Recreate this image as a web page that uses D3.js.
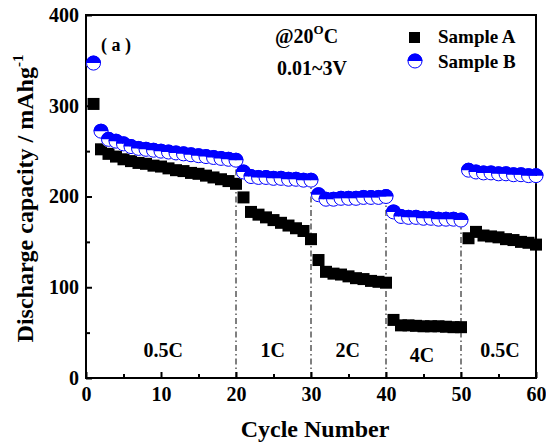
<!DOCTYPE html>
<html><head><meta charset="utf-8">
<script src="https://cdn.jsdelivr.net/npm/d3@7"></script>
<style>body{margin:0;background:#fff}svg{display:block}text{font-family:"Liberation Serif","Times New Roman",serif;font-weight:bold}</style>
</head><body><svg id="c" width="546" height="444"></svg>
<script>
const cycles = d3.range(1, 61);
const sampleA = [302,252,247,244,241,239,237,236,234,233,231,229,228,226,225,223,221,219,217,214,
  199,183,180,177,174,171,168,165,162,153,
  130,117,115,114,112,110,109,107,106,105,
  64,58,58,57.5,57,57,57,56.5,56,56,
  154,161,157,156,155,153,152,150,149,147];
const sampleB = [347,272,263,261,258,255,253,252,251,250,249,248,247,246,245,244,243,242,241,240,
  227,222,221,221,220,220,219,219,218,218,
  202,197,197,198,198,198,199,199,199,200,
  183,178,177,177,176,176,175,175,175,174,
  229,227,226,226,225,225,224,224,223,223];
const dividers = [20, 30, 40, 50];
const rateLabels = ["0.5C", "1C", "2C", "4C", "0.5C"];
const ratePos = [10.3, 24.9, 34.9, 44.8, 55.2];
const xTicks = [0,10,20,30,40,50,60];
const yTicks = [0,100,200,300,400];

const svg = d3.select("#c");
const x = d3.scaleLinear().domain([0,60]).range([86,536]);
const y = d3.scaleLinear().domain([0,400]).range([378,15]);

// divider lines (dash-dot) up to Sample B value
svg.selectAll("line.div").data(dividers).join("line")
  .attr("x1", d=>x(d)).attr("x2", d=>x(d))
  .attr("y1", y(0)).attr("y2", d=>y(sampleB[d-1]))
  .attr("stroke","#000").attr("stroke-width",1).attr("stroke-dasharray","6,3,1.5,3");

// axes
const axB = d3.axisBottom(x).tickValues(xTicks).tickSize(-6).tickPadding(9).tickFormat(d3.format("d"));
const axL = d3.axisLeft(y).tickValues(yTicks).tickSize(-6).tickPadding(7).tickFormat(d3.format("d"));
const gB = svg.append("g").attr("transform",`translate(0,${y(0)})`).call(axB);
const gL = svg.append("g").attr("transform",`translate(${x(0)},0)`).call(axL);
// minor ticks
const gBm = svg.append("g").attr("transform",`translate(0,${y(0)})`)
  .call(d3.axisBottom(x).tickValues([5,15,25,35,45,55]).tickSize(-4).tickFormat(""));
const gLm = svg.append("g").attr("transform",`translate(${x(0)},0)`)
  .call(d3.axisLeft(y).tickValues([50,150,250,350]).tickSize(-4).tickFormat(""));
[gB,gL,gBm,gLm].forEach(g=>{
  g.select(".domain").remove();
  g.selectAll("line").attr("stroke","#000").attr("stroke-width",2);
  g.selectAll("text").attr("font-size",20).attr("font-family","Liberation Serif").attr("font-weight","bold").attr("fill","#000");
});
// frame
svg.append("rect").attr("x",x(0)).attr("y",y(400)).attr("width",x(60)-x(0)).attr("height",y(0)-y(400))
  .attr("fill","none").attr("stroke","#000").attr("stroke-width",2);

// Sample A squares
const s = 12;
svg.append("g").selectAll("rect").data(cycles).join("rect")
  .attr("x", (d,i)=>x(d)-s/2).attr("y",(d,i)=>y(sampleA[i])-s/2)
  .attr("width",s).attr("height",s).attr("fill","#000");

// Sample B half-filled circles
const r = 7.5;
const upper = `M${-r},0 A${r},${r} 0 0 1 ${r},0 Z`;
const lower = `M${-r},0 A${r},${r} 0 0 0 ${r},0 Z`;
function halfCircle(g){
  g.append("path").attr("d",lower).attr("fill","#fff");
  g.append("path").attr("d",upper).attr("fill","#0000ff");
  g.append("circle").attr("r",r-0.5).attr("fill","none").attr("stroke","#0000ff").attr("stroke-width",1);
}
svg.append("g").selectAll("g").data(cycles).join("g")
  .attr("transform",(d,i)=>`translate(${x(d)},${y(sampleB[i])})`)
  .each(function(){ halfCircle(d3.select(this)); });

// rate labels
svg.selectAll("text.rate").data(rateLabels).join("text")
  .attr("x",(d,i)=>x(ratePos[i])).attr("y",(d,i)=> i===3 ? 362 : 357)
  .attr("text-anchor","middle").attr("font-size",20).text(d=>d);

// annotations
svg.append("text").attr("x",116).attr("y",51).attr("text-anchor","middle").attr("font-size",18).text("( a )");
const t1 = svg.append("text").attr("x",275).attr("y",43).attr("font-size",20);
t1.append("tspan").text("@20");
t1.append("tspan").attr("dy",-9).attr("font-size",13).text("O");
t1.append("tspan").attr("dy",9).text("C");
svg.append("text").attr("x",277).attr("y",75).attr("font-size",20).text("0.01~3V");

// legend
svg.append("rect").attr("x",409).attr("y",32).attr("width",11).attr("height",11).attr("fill","#000");
svg.append("text").attr("x",438).attr("y",43).attr("font-size",19).text("Sample A");
const lg = svg.append("g").attr("transform","translate(415,61)");
halfCircle(lg);
svg.append("text").attr("x",438).attr("y",68).attr("font-size",19).text("Sample B");

// axis titles
svg.append("text").attr("x",x(30)+4).attr("y",437).attr("text-anchor","middle").attr("font-size",24).text("Cycle Number");
const yl = svg.append("text").attr("transform",`translate(33,${(y(0)+y(400))/2+2}) rotate(-90)`)
  .attr("text-anchor","middle").attr("font-size",24);
yl.append("tspan").text("Discharge capacity / mAhg");
yl.append("tspan").attr("dy",-10).attr("font-size",15).text("-1");
</script></body></html>
